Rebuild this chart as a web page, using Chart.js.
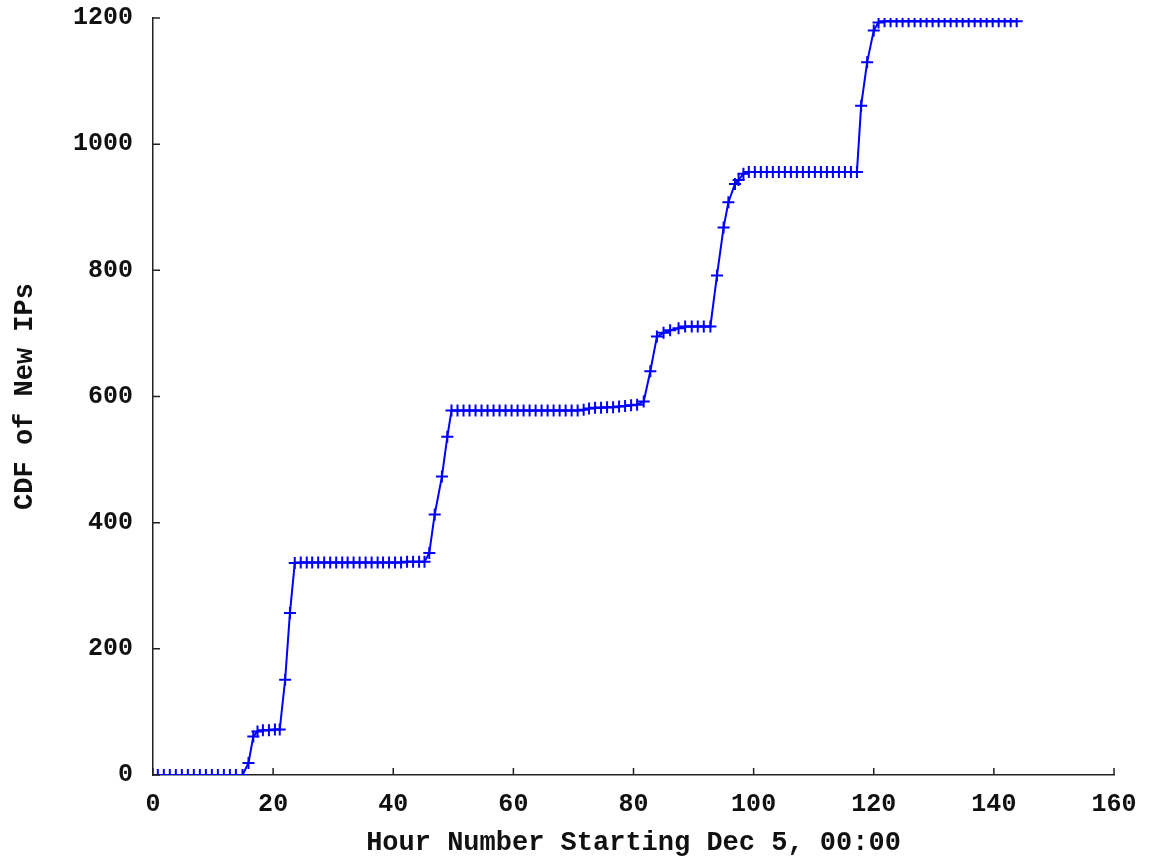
<!DOCTYPE html>
<html>
<head>
<meta charset="utf-8">
<script src="https://cdn.jsdelivr.net/npm/chart.js@4"></script>
<style>
  html, body { margin: 0; padding: 0; background: #fff; }
  #wrap { width: 1150px; height: 859px; }
</style>
</head>
<body>
<div id="wrap"><canvas id="myChart"></canvas></div>
<script>
const ctx = document.getElementById("myChart");

// hour of each sample
const hours = [
  0.8, 1.8, 2.8, 3.8, 4.8, 5.8, 6.8, 7.8, 8.8, 9.8, 10.8, 11.8, 12.8, 13.8, 14.9,
  15.9, 16.7, 17.4, 18.3, 19.3, 20.3, 21.1, 22.0, 22.8, 23.6,
  24.6, 25.6, 26.5, 27.5, 28.5, 29.5, 30.5, 31.5, 32.4, 33.4, 34.4, 35.4, 36.4, 37.4, 38.3, 39.3, 40.3, 41.3, 42.3, 43.3, 44.3, 45.2,
  46.0, 46.9, 48.1, 49.0, 49.7,
  50.7, 51.7, 52.7, 53.7, 54.7, 55.7, 56.7, 57.7, 58.7, 59.7, 60.7, 61.7, 62.7, 63.7, 64.7, 65.7, 66.7, 67.7, 68.7, 69.7, 70.7, 71.7,
  72.6, 73.6, 74.6, 75.6, 76.6, 77.6, 78.6, 79.6, 80.6,
  81.7, 82.8, 83.9, 85.0, 86.1, 87.5, 88.6, 89.7, 90.7, 91.7, 92.8, 93.9, 95.0, 95.8, 96.9, 97.5, 98.3,
  99.2, 100.2, 101.2, 102.2, 103.2, 104.2, 105.2, 106.2, 107.2, 108.2, 109.2, 110.2, 111.2, 112.2, 113.2, 114.2, 115.2, 116.2, 117.2,
  117.9, 118.9, 120.0, 120.8,
  121.8, 122.8, 123.8, 124.8, 125.8, 126.8, 127.8, 128.8, 129.8, 130.8, 131.8, 132.8, 133.8, 134.8, 135.8, 136.8, 137.8, 138.8, 139.8, 140.8, 141.8, 142.8, 143.8
];

// cumulative count of new IPs
const newIPs = [
  0, 0, 0, 0, 0, 0, 0, 0, 0, 0, 0, 0, 0, 0, 0,
  19, 61, 69, 71, 71, 72, 72, 151, 257, 336,
  337, 337, 337, 337, 337, 337, 337, 337, 337, 337, 337, 337, 337, 337, 337, 337, 337, 337, 338, 338, 338, 338,
  352, 413, 473, 536, 578,
  578, 578, 578, 578, 578, 578, 578, 578, 578, 578, 578, 578, 578, 578, 578, 578, 578, 578, 578, 578, 578, 579,
  581, 582, 582, 583, 583, 584, 585, 586, 587,
  592, 640, 695, 701, 705, 708, 711, 711, 711, 711, 711, 792, 868, 908, 937, 943, 953,
  956, 956, 956, 956, 956, 956, 956, 956, 956, 956, 956, 956, 956, 956, 956, 956, 956, 956, 956,
  1061, 1130, 1180, 1193,
  1195, 1195, 1195, 1195, 1195, 1195, 1195, 1195, 1195, 1195, 1195, 1195, 1195, 1195, 1195, 1195, 1195, 1195, 1195, 1195, 1195, 1195, 1195
];

const xTicks = [0, 20, 40, 60, 80, 100, 120, 140, 160];
const yTicks = [0, 200, 400, 600, 800, 1000, 1200];

const xTitle = "Hour Number Starting Dec 5, 00:00";
const yTitle = "CDF of New IPs";

const points = hours.map((h, i) => ({ x: h, y: newIPs[i] }));

const tickFont = { family: "Liberation Mono", size: 25, weight: "bold" };
const titleFont = { family: "Liberation Mono", size: 27, weight: "bold" };

// gnuplot style: tick marks point into the plot
const innerTicks = {
  id: "innerTicks",
  afterDraw(chart) {
    const c = chart.ctx;
    const xs = chart.scales.x;
    const ys = chart.scales.y;
    const a = chart.chartArea;
    c.save();
    c.strokeStyle = "#222";
    c.lineWidth = 1.5;
    c.beginPath();
    xTicks.forEach((t) => {
      const px = xs.getPixelForValue(t);
      c.moveTo(px, a.bottom);
      c.lineTo(px, a.bottom - 7);
    });
    yTicks.forEach((t) => {
      const py = ys.getPixelForValue(t);
      c.moveTo(a.left, py);
      c.lineTo(a.left + 7, py);
    });
    c.stroke();
    c.restore();
  },
};

new Chart(ctx, {
  type: "scatter",
  data: {
    datasets: [
      {
        label: yTitle,
        data: points,
        showLine: true,
        borderColor: "#0000ff",
        backgroundColor: "#0000ff",
        borderWidth: 2,
        pointStyle: "cross",
        pointRadius: 6,
        pointBorderWidth: 2,
        pointHoverRadius: 6,
        tension: 0,
      },
    ],
  },
  options: {
    responsive: true,
    maintainAspectRatio: false,
    animation: false,
    layout: { padding: { left: 0, right: 36, top: 18, bottom: 0 } },
    plugins: {
      legend: { display: false },
      tooltip: { enabled: false },
    },
    scales: {
      x: {
        type: "linear",
        min: 0,
        max: 160,
        afterBuildTicks: (s) => { s.ticks = xTicks.map((v) => ({ value: v })); },
        afterFit: (s) => { s.height = 84; },
        grid: { display: false },
        border: { display: true, color: "#222", width: 1.5 },
        ticks: { color: "#111", font: tickFont, padding: 7, maxRotation: 0, callback: (v) => String(v) },
        title: {
          display: true,
          text: xTitle,
          color: "#111",
          font: titleFont,
          padding: { top: 0, bottom: 0 },
        },
      },
      y: {
        type: "linear",
        min: 0,
        max: 1200,
        afterBuildTicks: (s) => { s.ticks = yTicks.map((v) => ({ value: v })); },
        afterFit: (s) => {
          s.width = 153;
          s.paddingTop = 0;
          s.paddingBottom = 0;
        },
        grid: { display: false },
        border: { display: true, color: "#222", width: 1.5 },
        ticks: { color: "#111", font: tickFont, padding: 12, callback: (v) => String(v) },
        title: {
          display: true,
          text: yTitle,
          color: "#111",
          font: titleFont,
          padding: { top: 9, bottom: 0 },
        },
      },
    },
  },
  plugins: [innerTicks],
});
</script>
</body>
</html>
